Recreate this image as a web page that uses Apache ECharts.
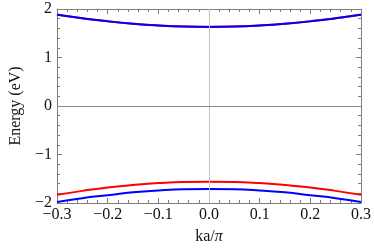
<!DOCTYPE html>
<html><head><meta charset="utf-8">
<script src="https://cdn.jsdelivr.net/npm/echarts@6/dist/echarts.min.js"></script>
<style>html,body{margin:0;padding:0;background:#fff}#c{width:374px;height:250px}</style>
</head><body><div id="c"></div>
<script>
var kx = [-0.3,-0.25,-0.2,-0.15,-0.1,-0.05,0,0.05,0.1,0.15,0.2,0.25,0.3];
var upperBlue = [1.88,1.807,1.745,1.696,1.66,1.637,1.63,1.637,1.66,1.696,1.745,1.807,1.88];
var upperRed  = [1.885,1.81,1.748,1.698,1.662,1.639,1.632,1.639,1.662,1.698,1.748,1.81,1.885];
var lowerRed  = [-1.83,-1.75,-1.68,-1.63,-1.59,-1.565,-1.56,-1.565,-1.59,-1.63,-1.68,-1.75,-1.83];
var lowerBlue = [-1.98,-1.90,-1.84,-1.78,-1.74,-1.715,-1.71,-1.715,-1.74,-1.78,-1.84,-1.90,-1.98];
var xTicks = [-0.3,-0.2,-0.1,0,0.1,0.2,0.3];
var yTicks = [-2,-1,0,1,2];

function pts(ys){ return kx.map(function(x,i){return [x,ys[i]];}); }
function fmtX(v){ var s=(Math.round(v*10)/10).toFixed(1); return s.replace('-','\u2212'); }
function fmtY(v){ return String(Math.round(v)).replace('-','\u2212'); }
var font = 'Liberation Serif';
var fs = 16;
var frame = '#7f7f7f';
function xa(pos, show){
  return {type:'value', position:pos, min:-0.3, max:0.3, interval:0.1,
    axisLine:{show:true, onZero:false, lineStyle:{color:frame,width:1}},
    axisTick:{show:true, inside:true, length:5, lineStyle:{color:frame}},
    minorTick:{show:true, splitNumber:5, length:3, lineStyle:{color:frame}},
    splitLine:{show:false},
    axisLabel:{show:show, color:'#111', fontFamily:font, fontSize:fs, margin:4, formatter:fmtX},
    name: show?'ka/{i|\u03c0}':'', nameLocation:'middle', nameGap:26,
    nameTextStyle:{color:'#111', fontFamily:font, fontSize:fs,
      rich:{i:{fontStyle:'italic', fontFamily:font, fontSize:fs, color:'#111'}}}};
}
function ya(pos, show){
  return {type:'value', position:pos, min:-2, max:2, interval:1,
    axisLine:{show:true, onZero:false, lineStyle:{color:frame,width:1}},
    axisTick:{show:true, inside:true, length:5, lineStyle:{color:frame}},
    minorTick:{show:true, splitNumber:5, length:3, lineStyle:{color:frame}},
    splitLine:{show:false},
    axisLabel:{show:show, color:'#111', fontFamily:font, fontSize:fs, margin:5, formatter:fmtY},
    name: show?'Energy (eV)':'', nameLocation:'middle', nameGap:33,
    nameTextStyle:{color:'#111', fontFamily:font, fontSize:fs}};
}
function line(data,color,z){
  return {type:'line', data:pts(data), xAxisIndex:0, yAxisIndex:0, smooth:true, showSymbol:false,
    symbol:'none', lineStyle:{color:color,width:2}, z:z, animation:false};
}
var chart = echarts.init(document.getElementById('c'), null, {renderer:'canvas'});
chart.setOption({
  animation:false,
  grid:{left:48, right:10, top:9, bottom:45},
  xAxis:[xa('bottom',true), xa('top',false)],
  yAxis:[ya('left',true), ya('right',false)],
  series:[
    {type:'line', data:[], xAxisIndex:0, yAxisIndex:0,
     markLine:{silent:true, symbol:'none', animation:false, label:{show:false},
       data:[{xAxis:0, lineStyle:{color:'#c4c4c4', width:1, type:'solid'}},
             {yAxis:0, lineStyle:{color:'#8a8a8a', width:1, type:'solid'}}]}},
    line(upperRed,'#ff0000',3),
    line(lowerRed,'#ff0000',3),
    line(upperBlue,'#0000ff',4),
    line(lowerBlue,'#0000ff',4)
  ]
});
</script></body></html>
